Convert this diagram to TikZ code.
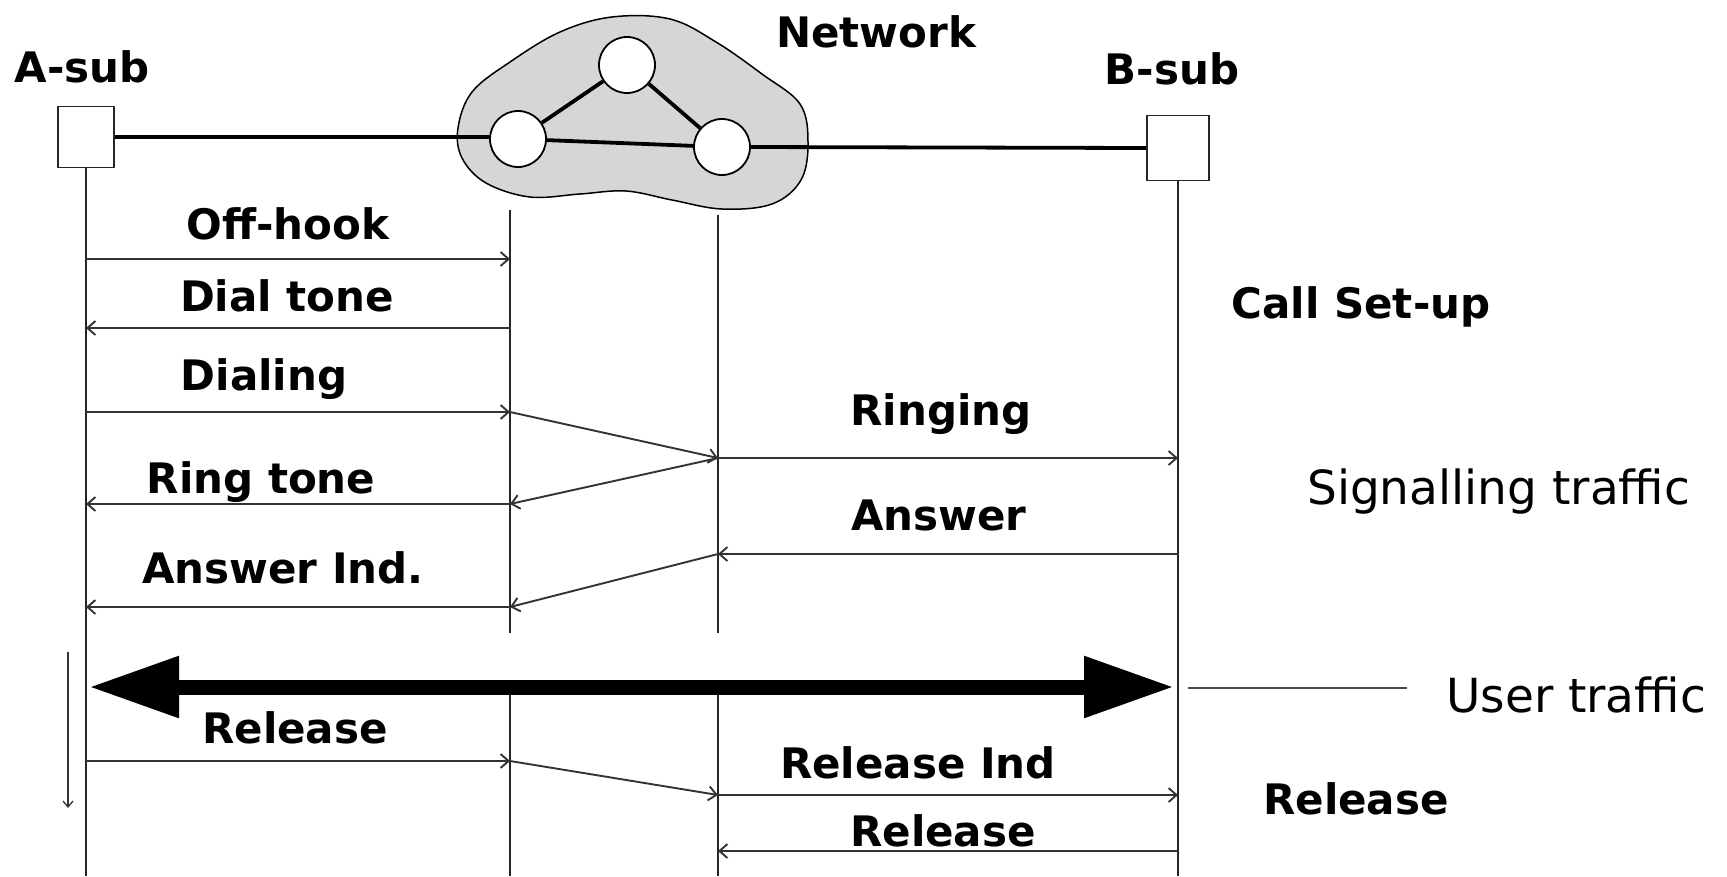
\documentclass[tikz,border=0pt]{standalone}
\usepackage{fontspec}
\setmainfont{DejaVu Sans}
\usetikzlibrary{arrows.meta}
\definecolor{cloudfill}{gray}{0.84}
\definecolor{msgline}{gray}{0.2}
\begin{document}
\begin{tikzpicture}[x=1pt,y=-1pt,
  bl/.style={font=\fontsize{42}{50}\selectfont\bfseries, anchor=base, inner sep=0pt},
  pl/.style={font=\fontsize{47}{56}\selectfont, anchor=base west, inner sep=0pt},
  msg/.style={draw=msgline, line width=1.9pt, -{Straight Barb[length=8pt,width=14pt]}},
  life/.style={draw=black!85, line width=1.8pt},
  link/.style={draw=black, line width=3.8pt},
  subbox/.style={draw=black!85, line width=1.6pt, fill=white, inner sep=0pt},
  sw/.style={circle, draw=black, line width=1.8pt, fill=white, minimum size=56pt, inner sep=0pt},
  bigarrow/.style={draw=black, line width=15pt, {Triangle[length=90pt,width=58pt]}-{Triangle[length=90pt,width=58pt]}}
]
\useasboundingbox (0,0) rectangle (1727,876);
\def\xA{86}
\def\xL{510}
\def\xM{718}
\def\xB{1178}
% network cloud
\draw[line width=1.5pt, fill=cloudfill] plot[smooth cycle, tension=0.6] coordinates {(458,128) (472,92) (510,62) (560,32) (612,17) (670,19) (716,42) (762,74) (800,104) (808,142) (801,180) (772,204) (722,209) (672,200) (626,191) (580,194) (530,197) (486,183) (462,158)};
\node[sw] (N1) at (627,65) {};
\node[sw] (N2) at (518,139) {};
\node[sw] (N3) at (722,147) {};
\node[subbox, minimum width=56pt, minimum height=61pt] (Abox) at (\xA,137) {};
\node[subbox, minimum width=62pt, minimum height=65pt] (Bbox) at (\xB,148) {};
\draw[link] (Abox.east) -- (Abox.east -| N2.west);
\draw[link] (N2) -- (N1);
\draw[link] (N1) -- (N3);
\draw[link] (N2) -- (N3);
\draw[link] (N3.east) -- (Bbox.west);
% titles
\node[bl] (tA) at (82,82) {A-sub};
\node[bl] (tN) at (876,47) {Network};
\node[bl] (tB) at (1172,84) {B-sub};
% lifelines
\coordinate (Lt1) at (\xL,210);
\coordinate (Lb1) at (\xL,633);
\coordinate (Lt2) at (\xL,682);
\coordinate (Lb2) at (\xL,876);
\coordinate (Mt1) at (\xM,215);
\coordinate (Mb1) at (\xM,633);
\coordinate (Mt2) at (\xM,682);
\coordinate (Mb2) at (\xM,876);
\coordinate (Aend) at (\xA,876);
\coordinate (Bend) at (\xB,876);
\draw[life] (Abox.south) -- (Aend);
\draw[life] (Bbox.south) -- (Bend);
\draw[life] (Lt1) -- (Lb1);
\draw[life] (Lt2) -- (Lb2);
\draw[life] (Mt1) -- (Mb1);
\draw[life] (Mt2) -- (Mb2);
% message points
\coordinate (a1) at (\xA,259);  \coordinate (l1) at (\xL,259);
\coordinate (a2) at (\xA,328);  \coordinate (l2) at (\xL,328);
\coordinate (a3) at (\xA,412);  \coordinate (l3) at (\xL,412);
\coordinate (m4) at (\xM,458);  \coordinate (b4) at (\xB,458);
\coordinate (a5) at (\xA,504);  \coordinate (l5) at (\xL,504);
\coordinate (m6) at (\xM,554);  \coordinate (b6) at (\xB,554);
\coordinate (a7) at (\xA,607);  \coordinate (l7) at (\xL,607);
\coordinate (a9) at (\xA,761);  \coordinate (l9) at (\xL,761);
\coordinate (m10) at (\xM,795); \coordinate (b10) at (\xB,795);
\coordinate (m11) at (\xM,851); \coordinate (b11) at (\xB,851);
% call set-up
\draw[msg] (a1) -- (l1);
\node[bl] (offhook) at (288,239) {Off-hook};
\draw[msg] (l2) -- (a2);
\node[bl] (dialtone) at (287,311) {Dial tone};
\draw[msg] (a3) -- (l3);
\node[bl] (dialing) at (264,390) {Dialing};
\draw[msg] (l3) -- (m4);
\draw[msg] (m4) -- (b4);
\node[bl] (ringing) at (941,425) {Ringing};
\draw[msg] (m4) -- (l5);
\draw[msg] (l5) -- (a5);
\node[bl] (ringtone) at (261,493) {Ring tone};
\draw[msg] (b6) -- (m6);
\node[bl] (answer) at (939,530) {Answer};
\draw[msg] (m6) -- (l7);
\draw[msg] (l7) -- (a7);
\node[bl] (answerind) at (283,583) {Answer Ind.};
% user traffic
\coordinate (tL) at (89,687);
\coordinate (tR) at (1174,687);
\draw[bigarrow] (tL) -- (tR);
\coordinate (ut1) at (1188,688);
\coordinate (ut2) at (1407,688);
\draw[draw=black!70, line width=1.6pt] (ut1) -- (ut2);
\node[pl] (usertraffic) at (1446,712) {User traffic};
% release
\draw[msg] (a9) -- (l9);
\node[bl] (rel1) at (295,743) {Release};
\draw[msg] (l9) -- (m10);
\draw[msg] (m10) -- (b10);
\node[bl] (relind) at (918,778) {Release Ind};
\draw[msg] (b11) -- (m11);
\node[bl] (rel2) at (943,846) {Release};
% time arrow
\coordinate (t1) at (68,652);
\coordinate (t2) at (68,808);
\draw[draw=black!80, line width=1.3pt, -{Straight Barb[length=6pt,width=10pt]}] (t1) -- (t2);
% phase labels
\node[bl] (callsetup) at (1361,318) {Call Set-up};
\node[pl] (signalling) at (1307,504) {Signalling traffic};
\node[bl] (relphase) at (1356,814) {Release};
\end{tikzpicture}
\end{document}
